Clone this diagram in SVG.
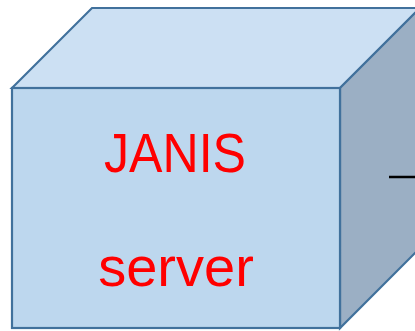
<svg xmlns="http://www.w3.org/2000/svg" width="415" height="331" viewBox="0 0 415 331">
  <style>
    .edge { stroke: #41719C; stroke-width: 2.2; stroke-linejoin: miter; }
    .label { font-family: "Liberation Sans", Arial, sans-serif; font-size: 56px; fill: #FF0000; text-anchor: middle; }
    .wire { stroke: #000000; stroke-width: 2.5; fill: none; }
  </style>
  <rect width="415" height="331" fill="#FFFFFF"/>
  <g id="janis-server">
    <!-- top face -->
    <polygon class="edge" points="12,88 92,8 420,8 340,88" fill="#CCE0F3"/>
    <!-- right face -->
    <polygon class="edge" points="340,88 420,8 420,248 340,328" fill="#9BAFC4"/>
    <!-- front face -->
    <rect class="edge" x="12" y="88" width="328" height="240" fill="#BDD7EE"/>
    <text class="label" x="175" y="172" textLength="142" lengthAdjust="spacingAndGlyphs">JANIS</text>
    <text class="label" x="176" y="286">server</text>
  </g>
  <g id="connectors">
    <line class="wire" x1="389" y1="177" x2="415" y2="177"/>
  </g>
</svg>
